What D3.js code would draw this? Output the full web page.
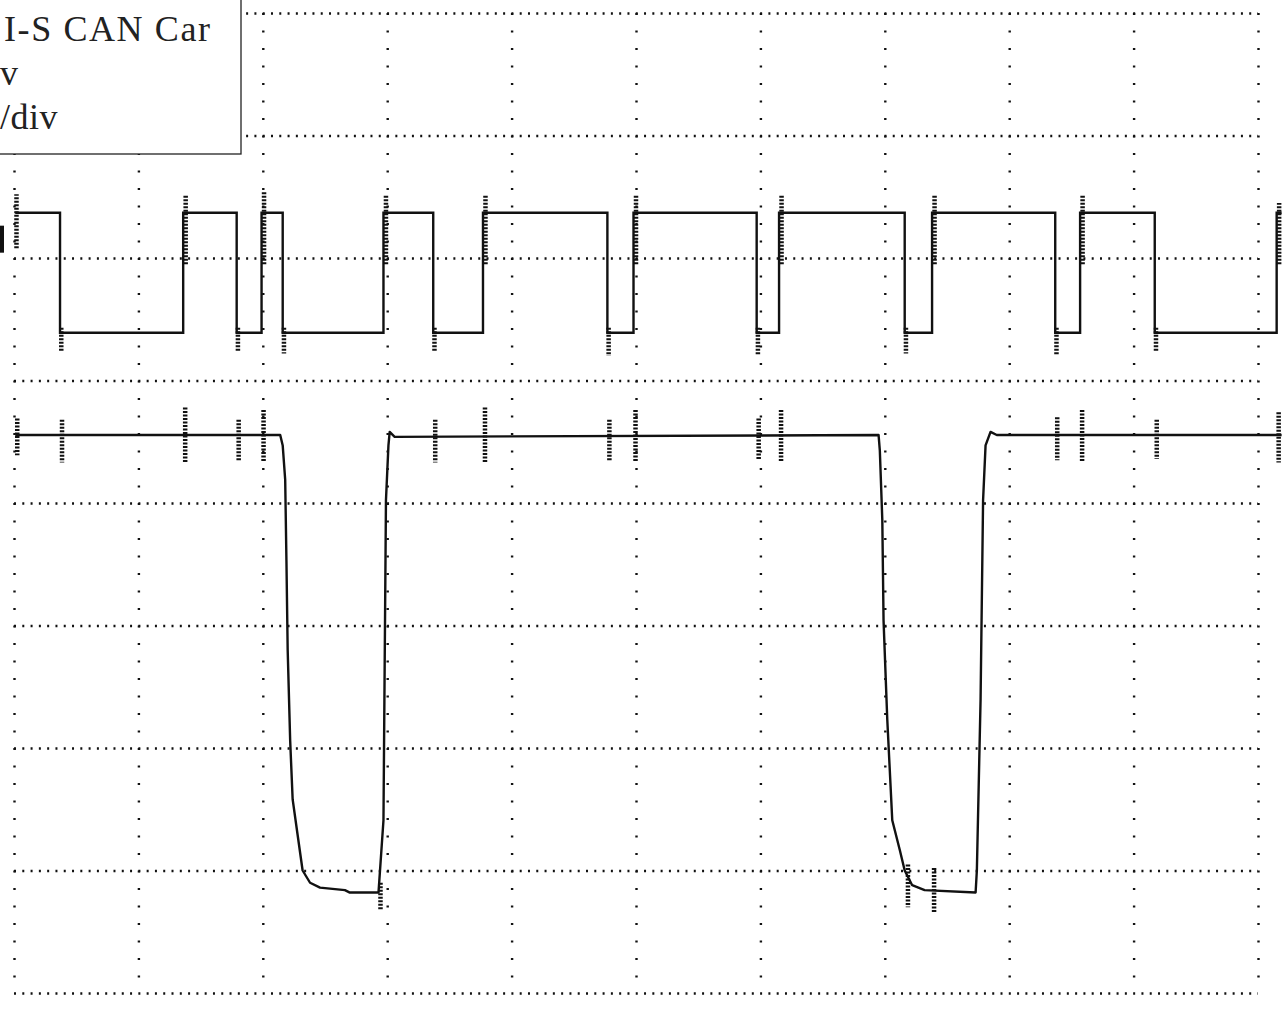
<!DOCTYPE html>
<html>
<head>
<meta charset="utf-8">
<script src="https://cdn.jsdelivr.net/npm/d3@7"></script>
<style>
  html, body { margin: 0; padding: 0; background: #fff; overflow: hidden; }
  svg { display: block; }
</style>
</head>
<body>
<svg id="scope" width="1282" height="1010"></svg>
<script>
// Screen is 10 horizontal x 8 vertical divisions; values below are in divisions.
const xDivTicks = [0, 1, 2, 3, 4, 5, 6, 7, 8, 9, 10];
const yDivTicks = [-4, -3, -2, -1, 0, 1, 2, 3, 4];

// Channel 1 (upper trace): square wave, edge times and the two levels
const ch1Start = 0.01;
const ch1End = 10.19;
const ch1Edges = [0.37, 1.36, 1.79, 1.99, 2.16, 2.97, 3.37, 3.77, 4.77, 4.98,
                  5.97, 6.15, 7.16, 7.38, 8.37, 8.57, 9.17, 10.15];
const ch1High = 2.37;
const ch1Low = 1.39;
// ringing at each edge: [time, from, to]
const ch1Ringing = [
  [0.02, 2.08, 2.52], [0.38, 1.43, 1.24], [1.38, 1.95, 2.52], [1.80, 1.43, 1.24],
  [2.01, 1.95, 2.55], [2.17, 1.43, 1.22], [2.99, 1.95, 2.52], [3.38, 1.43, 1.24],
  [3.79, 1.95, 2.52], [4.78, 1.43, 1.20], [5.00, 1.95, 2.52], [5.98, 1.43, 1.21],
  [6.17, 1.95, 2.52], [7.17, 1.43, 1.22], [7.40, 1.95, 2.52], [8.38, 1.43, 1.21],
  [8.59, 1.95, 2.52], [9.18, 1.43, 1.24], [10.17, 1.95, 2.45]
];

// Channel 2 (lower trace): sampled points [time, level]
const ch2Trace = [
  [0.01, 0.555], [2.14, 0.555], [2.16, 0.47], [2.18, 0.19], [2.19, -0.47],
  [2.20, -1.20], [2.22, -1.94], [2.24, -2.42], [2.28, -2.71], [2.32, -3.00],
  [2.38, -3.10], [2.46, -3.14], [2.66, -3.16], [2.70, -3.18], [2.93, -3.18],
  [2.97, -2.59], [2.99, 0.02], [3.01, 0.47], [3.02, 0.58], [3.06, 0.54],
  [6.95, 0.555], [6.96, 0.43], [6.98, -0.14], [6.99, -0.96], [7.02, -1.77],
  [7.06, -2.59], [7.12, -2.83], [7.16, -3.00], [7.22, -3.12], [7.32, -3.16],
  [7.73, -3.18], [7.74, -3.00], [7.77, -1.60], [7.79, 0.02], [7.81, 0.47],
  [7.85, 0.58], [7.90, 0.555], [10.19, 0.555]
];
// crosstalk bursts on channel 2: [time, top, bottom]
const ch2Bursts = [
  [0.01, 0.69, 0.39], [0.37, 0.68, 0.33], [1.36, 0.78, 0.33], [1.79, 0.68, 0.35],
  [1.99, 0.76, 0.33], [2.93, -3.10, -3.32], [3.37, 0.68, 0.33], [3.77, 0.78, 0.33],
  [4.77, 0.68, 0.35], [4.98, 0.76, 0.33], [5.97, 0.69, 0.35], [6.15, 0.76, 0.33],
  [7.17, -2.95, -3.30], [7.38, -2.98, -3.35], [8.37, 0.70, 0.35], [8.57, 0.76, 0.33],
  [9.17, 0.68, 0.36], [10.15, 0.74, 0.33]
];

// Settings box text
const infoLines = ["I-S CAN Car", "v", "/div"];

const svg = d3.select("#scope");
const x = d3.scaleLinear().domain([0, 10]).range([14, 1258]);
const y = d3.scaleLinear().domain([-4, 4]).range([993, 13]);

// Graticule: dotted lines through the axis ticks
const grid = svg.append("g");
const vGrid = grid.append("g")
  .attr("transform", `translate(0,${y(-4)})`)
  .call(d3.axisBottom(x).tickValues(xDivTicks).tickSize(-(y(-4) - y(4))).tickFormat(""));
vGrid.select(".domain").remove();
vGrid.selectAll(".tick line")
  .attr("stroke", "#111").attr("stroke-width", 2.4)
  .attr("stroke-dasharray", "2 15.5")
  .attr("transform", `translate(0,${-(y(-4) - y(4))}) scale(1,-1)`)
  .attr("y2", -(y(-4) - y(4)));

const hGrid = grid.append("g")
  .attr("transform", `translate(${x(0)},0)`)
  .call(d3.axisLeft(y).tickValues(yDivTicks).tickSize(-(x(10) - x(0))).tickFormat(""));
hGrid.select(".domain").remove();
hGrid.selectAll(".tick line")
  .attr("stroke", "#111").attr("stroke-width", 2.4)
  .attr("stroke-dasharray", "2 6.29");

// Channel 1 square wave
const ch1Points = [[ch1Start, ch1High]];
ch1Edges.forEach((t, i) => ch1Points.push([t, i % 2 === 0 ? ch1Low : ch1High]));
ch1Points.push([ch1End, ch1Points[ch1Points.length - 1][1]]);

const stepLine = d3.line().x(d => x(d[0])).y(d => y(d[1])).curve(d3.curveStepAfter);
svg.append("path")
  .datum(ch1Points)
  .attr("d", stepLine)
  .attr("fill", "none").attr("stroke", "#111").attr("stroke-width", 2.4);

svg.append("g").selectAll("line")
  .data(ch1Ringing)
  .join("line")
  .attr("x1", d => x(d[0])).attr("x2", d => x(d[0]))
  .attr("y1", d => y(d[1])).attr("y2", d => y(d[2]))
  .attr("stroke", "#111").attr("stroke-width", 4.5)
  .attr("stroke-dasharray", "2 1.5");

// Channel 2 trace
const traceLine = d3.line().x(d => x(d[0])).y(d => y(d[1]));
svg.append("path")
  .datum(ch2Trace)
  .attr("d", traceLine)
  .attr("fill", "none").attr("stroke", "#111").attr("stroke-width", 2.4)
  .attr("stroke-linejoin", "round");

svg.append("g").selectAll("line")
  .data(ch2Bursts)
  .join("line")
  .attr("x1", d => x(d[0]) + 2).attr("x2", d => x(d[0]) + 2)
  .attr("y1", d => y(d[1])).attr("y2", d => y(d[2]))
  .attr("stroke", "#111").attr("stroke-width", 4.5)
  .attr("stroke-dasharray", "2 1.5");

// Channel 1 ground marker at the left edge
svg.append("rect")
  .attr("x", 0).attr("y", y(ch1High) + 13).attr("width", 4).attr("height", 27)
  .attr("fill", "#111");

// Settings box in the top-left corner
svg.append("rect")
  .attr("x", -2).attr("y", -2).attr("width", 243).attr("height", 156)
  .attr("fill", "#fff").attr("stroke", "#222").attr("stroke-width", 1.3);

svg.append("g").selectAll("text")
  .data(infoLines)
  .join("text")
  .attr("x", (d, i) => i === 0 ? 4 : 0)
  .attr("y", (d, i) => 41 + i * 44)
  .attr("font-family", "'Liberation Serif', 'Times New Roman', serif")
  .attr("font-size", 36)
  .attr("letter-spacing", (d, i) => i === 0 ? 1.6 : 0.5)
  .attr("fill", "#222")
  .text(d => d);
</script>
</body>
</html>
